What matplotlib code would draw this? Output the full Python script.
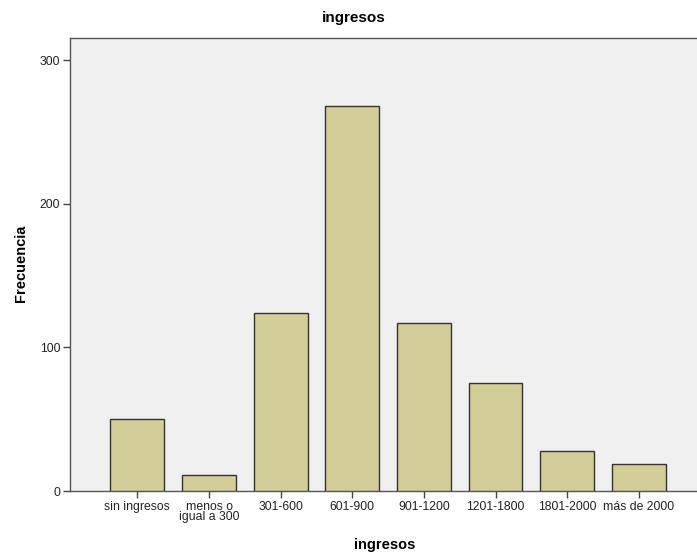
import matplotlib
matplotlib.use("Agg")
import matplotlib.pyplot as plt

categories = ["sin ingresos", "menos o\nigual a 300", "301-600", "601-900",
              "901-1200", "1201-1800", "1801-2000", "más de 2000"]
frecuencia = [50, 11, 124, 268, 117, 75, 28, 19]
yticks = [0, 100, 200, 300]

plt.rcParams['font.family'] = ['Liberation Sans', 'DejaVu Sans']

fig = plt.figure(figsize=(6.97, 5.53), dpi=100)
ax = fig.add_axes([70/697, 1 - 491/553, 1 - 70/697 + 0.002, (491 - 37.7)/553])
ax.set_facecolor("#F0F0F0")

x = list(range(len(categories)))
ax.bar(x, frecuencia, width=0.75, color="#D3CE97", edgecolor="#333333", linewidth=1.0, zorder=3)

ax.set_xlim(-0.94, 7.83)
ax.set_ylim(0, 315.7)
ax.set_xticks(x)
ax.set_xticklabels(categories, fontsize=8.8, linespacing=0.8)
ax.set_yticks(yticks)
ax.set_yticklabels([str(v) for v in yticks], fontsize=8.8)

for s in ["left", "bottom", "top"]:
    ax.spines[s].set_color("#555555")
    ax.spines[s].set_linewidth(1.0)
ax.spines["right"].set_visible(False)
ax.tick_params(axis="both", direction="out", length=5, width=1, color="#444444", pad=2, labelcolor="#222222")

ax.set_xlabel("ingresos", fontsize=10.5, fontweight="bold")
ax.xaxis.set_label_coords((384 - 70) / 627, -(545 - 491) / 453.3)
ax.xaxis.label.set_va("center")
ax.set_ylabel("Frecuencia", fontsize=10.5, fontweight="bold")
ax.yaxis.set_label_coords(-(70 - 21) / 627, (491 - 263) / 453.3)
ax.yaxis.label.set_va("center")
fig.text(354/697, 1 - 18/553, "ingresos", ha="center", va="center", fontsize=11, fontweight="bold")

fig.savefig("out.png", dpi=100)
